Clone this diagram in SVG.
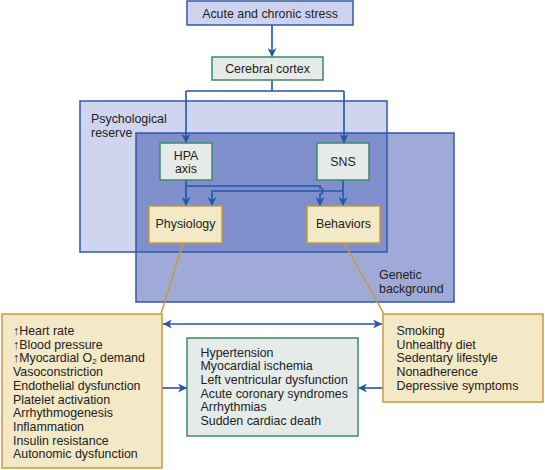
<svg xmlns="http://www.w3.org/2000/svg" width="545" height="470" viewBox="0 0 545 470">
<style>
text{font-family:"Liberation Sans",Arial,sans-serif;font-size:12.4px;fill:#222}
.c{text-anchor:middle}
.blue{fill:#cdd3ef;stroke:#2f5aa8;stroke-width:1.5}
.green{fill:#e5ebe8;stroke:#3e8a68;stroke-width:1.5}
.yellow{fill:#f3e9c7;stroke:#c89a3c;stroke-width:1.5}
.con{fill:none;stroke:#2456a6;stroke-width:1.6}
.tan{fill:none;stroke:#c89a3c;stroke-width:1.5}
</style>
<defs>
<marker id="ah" viewBox="0 0 10 10" refX="10" refY="5" markerWidth="9" markerHeight="9" markerUnits="userSpaceOnUse" orient="auto-start-reverse">
<path d="M0,0 L10,5 L0,10 L3,5 z" fill="#2456a6"/>
</marker>
</defs>
<g id="regions">
<rect x="80" y="101" width="307" height="151" fill="#cfd4ef"/>
<rect x="136" y="133" width="318" height="169" fill="#9faad9"/>
<rect x="136" y="133" width="251" height="119" fill="#7f8fcc"/>
<rect x="80" y="101" width="307" height="151" fill="none" stroke="#2f5aa8" stroke-width="1.5"/>
<rect x="136" y="133" width="318" height="169" fill="none" stroke="#2f5aa8" stroke-width="1.5"/>
<text x="91" y="122.5">Psychological</text>
<text x="91" y="136.5">reserve</text>
<text x="379" y="279">Genetic</text>
<text x="379" y="293">background</text>
</g>
<g id="connectors">
<path class="con" d="M272,25 V57" marker-end="url(#ah)"/>
<path class="con" d="M272,80 V91 M186,91 H344"/>
<path class="con" d="M186,91 V143" marker-end="url(#ah)"/>
<path class="con" d="M344,91 V143" marker-end="url(#ah)"/>
<path class="con" d="M186,180 V206" marker-end="url(#ah)"/>
<path class="con" d="M343,180 V206" marker-end="url(#ah)"/>
<path class="con" d="M186,186 H320 V188 A3,3 0 0 1 320,194 V206" marker-end="url(#ah)"/>
<path class="con" d="M343,191 H212 V206" marker-end="url(#ah)"/>
<path class="tan" d="M183,243 L161,314"/>
<path class="tan" d="M344,243 L384,314"/>
<path class="con" d="M163,324 H382" marker-start="url(#ah)" marker-end="url(#ah)"/>
<path class="con" d="M162,388 H187" marker-end="url(#ah)"/>
<path class="con" d="M383,388 H358" marker-end="url(#ah)"/>
</g>
<g id="stress">
<rect class="blue" x="187" y="1" width="166" height="24"/>
<text class="c" x="270" y="17.5">Acute and chronic stress</text>
</g>
<g id="cortex">
<rect class="green" x="212" y="57" width="111" height="23"/>
<text class="c" x="267.5" y="72.5">Cerebral cortex</text>
</g>
<g id="hpa">
<rect class="green" x="160" y="143" width="52" height="37"/>
<text class="c" x="186" y="159.5">HPA</text>
<text class="c" x="186" y="172.5">axis</text>
</g>
<g id="sns">
<rect class="green" x="317" y="143" width="52" height="37"/>
<text class="c" x="343" y="165.5">SNS</text>
</g>
<g id="physiology">
<rect class="yellow" x="149" y="206" width="73" height="37"/>
<text class="c" x="185.5" y="228">Physiology</text>
</g>
<g id="behaviors">
<rect class="yellow" x="307" y="206" width="73" height="37"/>
<text class="c" x="343.5" y="228">Behaviors</text>
</g>
<g id="physio-list">
<rect class="yellow" x="2" y="314" width="160" height="154"/>
<text x="13" y="335">↑Heart rate</text>
<text x="13" y="348.7">↑Blood pressure</text>
<text x="13" y="362.4">↑Myocardial O<tspan font-size="8" dy="2">2</tspan><tspan dy="-2"> demand</tspan></text>
<text x="13" y="376.1">Vasoconstriction</text>
<text x="13" y="389.8">Endothelial dysfunction</text>
<text x="13" y="403.5">Platelet activation</text>
<text x="13" y="417.2">Arrhythmogenesis</text>
<text x="13" y="430.9">Inflammation</text>
<text x="13" y="444.6">Insulin resistance</text>
<text x="13" y="458.3">Autonomic dysfunction</text>
</g>
<g id="behavior-list">
<rect class="yellow" x="383" y="314" width="160" height="88"/>
<text x="396.5" y="335">Smoking</text>
<text x="396.5" y="348.7">Unhealthy diet</text>
<text x="396.5" y="362.4">Sedentary lifestyle</text>
<text x="396.5" y="376.1">Nonadherence</text>
<text x="396.5" y="389.8">Depressive symptoms</text>
</g>
<g id="outcomes">
<rect class="green" x="187" y="338" width="171" height="98"/>
<text x="200.5" y="356.5">Hypertension</text>
<text x="200.5" y="370.2">Myocardial ischemia</text>
<text x="200.5" y="383.9">Left ventricular dysfunction</text>
<text x="200.5" y="397.6">Acute coronary syndromes</text>
<text x="200.5" y="411.3">Arrhythmias</text>
<text x="200.5" y="425">Sudden cardiac death</text>
</g>
</svg>
